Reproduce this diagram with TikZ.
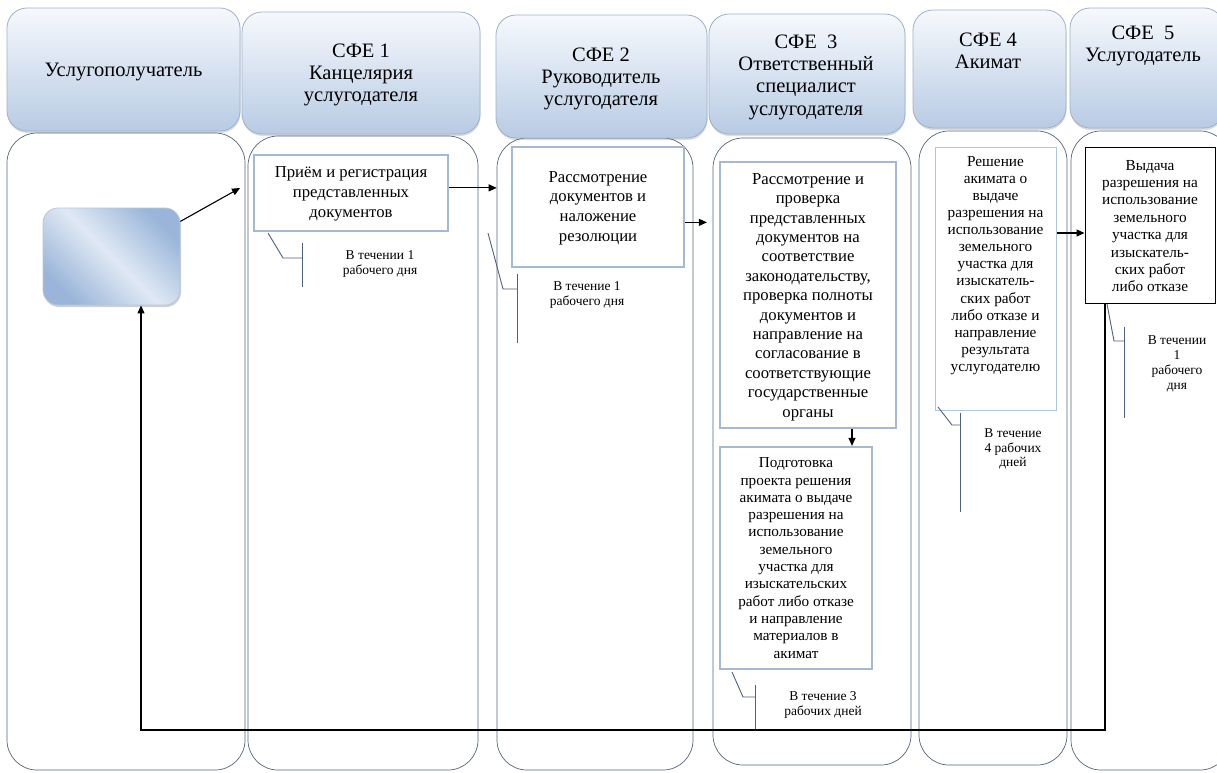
\documentclass[tikz,border=0pt]{standalone}
\usepackage{fontspec}
\setmainfont{Liberation Serif}
\usetikzlibrary{arrows.meta,shadows,calc}
\definecolor{hdtop}{HTML}{F6F9FD}
\definecolor{hdbot}{HTML}{B8CBE4}
\definecolor{hdline}{HTML}{9EB2CB}
\definecolor{laneline}{HTML}{56667A}
\definecolor{boxline}{HTML}{A6B9D2}
\definecolor{box5line}{HTML}{AFC7DD}
\definecolor{noteline}{HTML}{50627F}
\definecolor{cdark}{HTML}{9AB5D9}
\definecolor{clight}{HTML}{E0E9F4}
\begin{document}
\begin{tikzpicture}[x=1pt,y=-1pt,
  hdr/.style={draw=hdline, line width=0.8pt, rounded corners=20pt, top color=hdtop, bottom color=hdbot,
    drop shadow={shadow xshift=0.5pt,shadow yshift=-2pt,opacity=.2,fill=black!70}, inner sep=0pt},
  lane/.style={draw=laneline, line width=0.7pt, rounded corners=30pt, fill=white, inner sep=0pt},
  proc/.style={draw=boxline, line width=2.2pt, fill=white, inner sep=0pt},
  htext/.style={align=center, font=\fontsize{20.5}{22.3}\selectfont, inner sep=0pt},
  ptext/.style={align=center, inner sep=0pt},
  ntext/.style={align=center, font=\fontsize{13.5}{14.8}\selectfont, inner sep=0pt},
  note/.style={draw=noteline, line width=0.9pt},
  arr/.style={draw=black, line width=1.1pt, -{Triangle[length=8pt,width=7pt]}}]
\useasboundingbox (0,0) rectangle (1217,772);
\fill[white] (0,0) rectangle (1217,772);
% lanes
\node[lane, minimum width=238pt, minimum height=637pt] (L0) at (126,451.5) {};
\node[lane, minimum width=230pt, minimum height=634pt] (L1) at (363,453) {};
\node[lane, minimum width=196pt, minimum height=632pt] (L2) at (595,454) {};
\node[lane, minimum width=198pt, minimum height=627pt] (L3) at (812,451.5) {};
\node[lane, minimum width=148pt, minimum height=634pt] (L4) at (993,448) {};
\node[lane, minimum width=159pt, minimum height=639pt] (L5) at (1150.5,450.5) {};
% headers
\node[hdr, minimum width=233pt, minimum height=123pt] (H0) at (123.5,69.5) {};
\node[hdr, minimum width=238pt, minimum height=122pt] (H1) at (361,73) {};
\node[hdr, minimum width=211pt, minimum height=123pt] (H2) at (601.5,76.5) {};
\node[hdr, minimum width=196pt, minimum height=120pt] (H3) at (807,74) {};
\node[hdr, minimum width=153pt, minimum height=118pt] (H4) at (989.5,69) {};
\node[hdr, minimum width=154pt, minimum height=120pt] (H5) at (1147,68) {};
\node[htext] (T0) at (123.5,72) {Услугополучатель};
\node[htext] (T1) at (361,75) {СФЕ 1\\Канцелярия\\услугодателя};
\node[htext] (T2) at (601,79) {СФЕ 2\\Руководитель\\услугодателя};
\node[htext] (T3) at (806,77) {СФЕ\ \ 3\\Ответственный\\специалист\\услугодателя};
\node[htext] (T4) at (988,51) {СФЕ 4\\Акимат};
\node[htext] (T5) at (1143,46) {СФЕ\ \ 5\\Услугодатель};
% client box
\node[draw=boxline!80, line width=0.8pt, rounded corners=15pt, inner sep=0pt,
  top color=cdark, bottom color=cdark, middle color=clight, shading angle=-45,
  drop shadow={shadow xshift=1pt,shadow yshift=-2pt,opacity=.3,fill=black!60},
  minimum width=137pt, minimum height=97pt] (C) at (111.5,256.5) {};
% process boxes
\node[proc, minimum width=194pt, minimum height=76pt] (B1) at (351,193) {};
\node[ptext, font=\fontsize{16.7}{20}\selectfont] (B1t) at (351,194) {Приём и регистрация\\представленных\\документов};
\node[proc, minimum width=172pt, minimum height=120pt] (B2) at (598,207) {};
\node[ptext, font=\fontsize{16.7}{19.7}\selectfont] (B2t) at (598,208) {Рассмотрение\\документов и\\наложение\\резолюции};
\node[proc, minimum width=176pt, minimum height=266pt] (B3) at (808,295) {};
\node[ptext, font=\fontsize{16.7}{19.4}\selectfont] (B3t) at (808,297) {Рассмотрение и\\проверка\\представленных\\документов на\\соответствие\\законодательству,\\проверка полноты\\документов и\\направление на\\согласование в\\соответствующие\\государственные\\органы};
\node[proc, minimum width=152pt, minimum height=222pt] (B4) at (796,558) {};
\node[ptext, font=\fontsize{15.2}{17.3}\selectfont] (B4t) at (796,558) {Подготовка\\проекта решения\\акимата о выдаче\\разрешения на\\использование\\земельного\\участка для\\изыскательских\\работ либо отказе\\и направление\\материалов в\\акимат};
\node[draw=box5line, line width=1pt, fill=white, inner sep=0pt, minimum width=121pt, minimum height=263pt] (B5) at (995.5,278.5) {};
\node[ptext, font=\fontsize{15.3}{17.1}\selectfont] (B5t) at (995.5,265.5) {Решение\\акимата о\\выдаче\\разрешения на\\использование\\земельного\\участка для\\изыскатель-\\ских работ\\либо отказе и\\направление\\результата\\услугодателю};
\node[draw=black, line width=1pt, fill=white, inner sep=0pt, minimum width=130pt, minimum height=156pt] (B6) at (1150,225) {};
\node[ptext, font=\fontsize{15.3}{17.4}\selectfont] (B6t) at (1150,226) {Выдача\\разрешения на\\использование\\земельного\\участка для\\изыскатель-\\ских работ\\либо отказе};
% notes
\draw[note] (268,233) -- (283,258) -- (302,258);
\draw[note] (302,243) -- (302,287);
\node[ntext] (N1) at (380,264) {В течении 1\\рабочего дня};
\draw[note] (488,233) -- (503,289) -- (517,289);
\draw[note] (517,274) -- (517,343);
\node[ntext] (N2) at (587,295) {В течение 1\\рабочего дня};
\draw[note] (732,672) -- (743,697) -- (755,697);
\draw[note] (755,685) -- (755,729);
\node[ntext] (N4) at (823,705) {В течение 3\\рабочих дней};
\draw[note] (938,407) -- (952,425) -- (960,425);
\draw[note] (960,413) -- (960,512);
\node[ntext] (N5) at (1013,449) {В течение\\4 рабочих\\дней};
\draw[note] (1107,304) -- (1114,341) -- (1124,341);
\draw[note] (1124,327) -- (1124,418);
\node[ntext] (N6) at (1177,364) {В течении\\1\\рабочего\\дня};
% connectors
\coordinate (a1) at (240,188);
\coordinate (fb) at (141,730);
\draw[arr] (C.27) -- (a1);
\draw[arr] (B1.3) -- (B1.3 -| L2.west);
\draw[arr, shorten >=12pt] (B2.-10.5) -- (B2.-10.5 -| B3.west);
\draw[arr] ([xshift=44pt]B3.south) -- ([xshift=44pt]B3.south |- B4.north);
\draw[arr] ([yshift=45.5pt]B5.east) -- ([yshift=45.5pt]B5.east -| B6.west);
\draw[arr] ([xshift=-45pt]B6.south) |- (fb) -- ([xshift=29.5pt]C.south);
\end{tikzpicture}
\end{document}
